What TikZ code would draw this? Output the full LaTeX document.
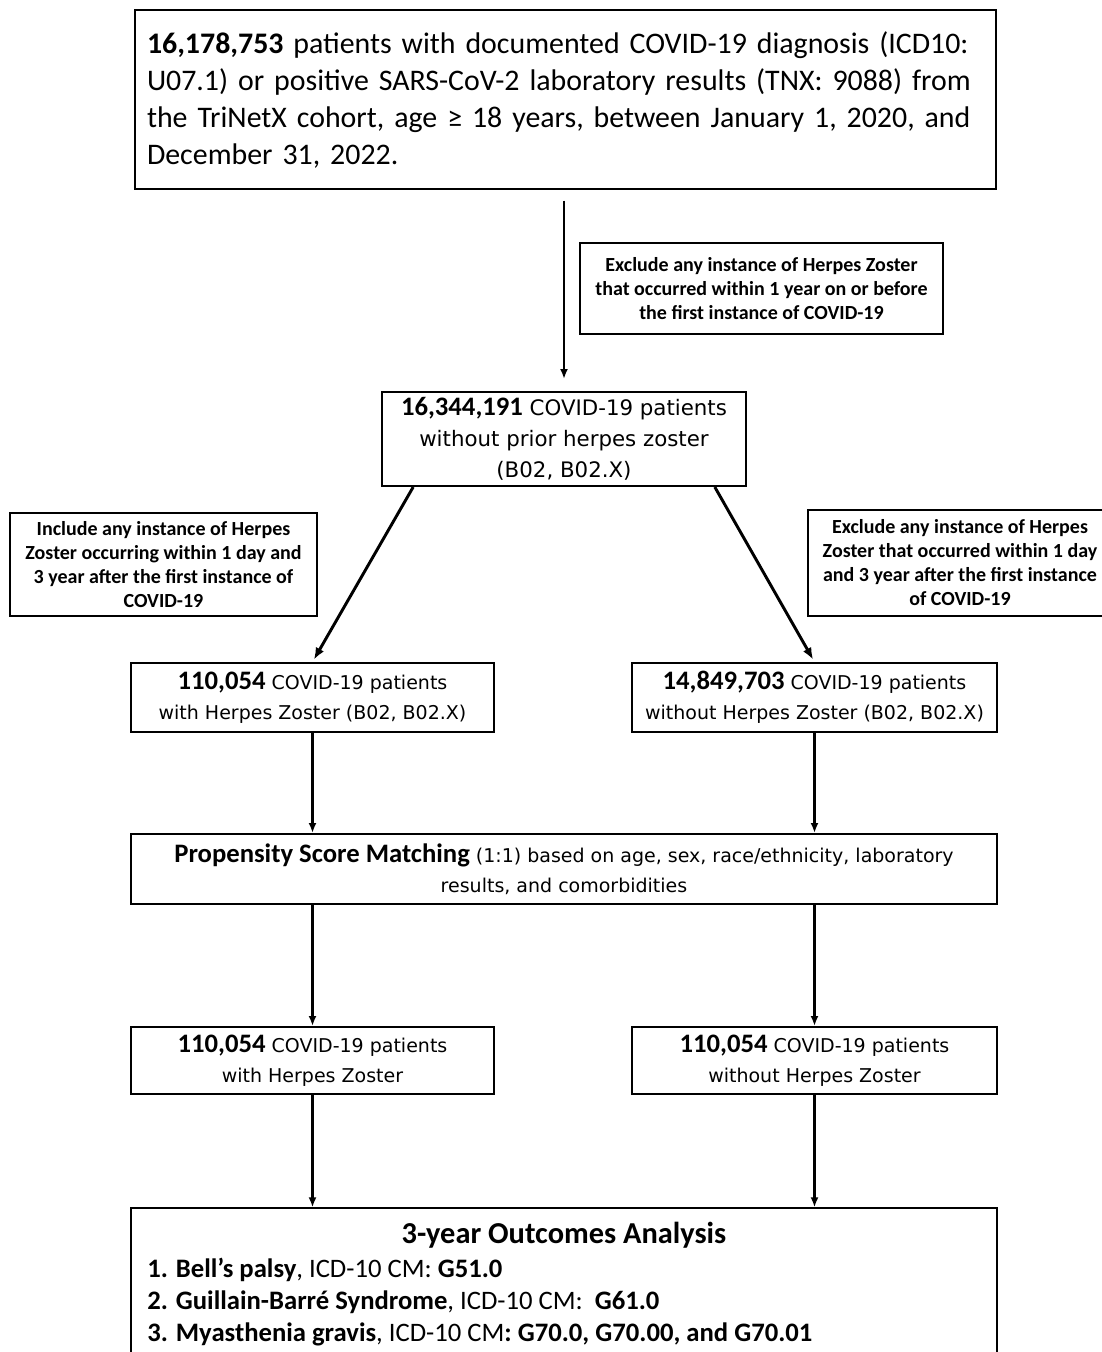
\documentclass[tikz,border=0pt]{standalone}
\usepackage{fontspec}
\setmainfont{Carlito}
\newfontfamily\dvfont{DejaVu Sans}
\usetikzlibrary{arrows.meta,calc}
\newcommand\bnum[2][20]{{\fontsize{#1}{#1}\selectfont\rmfamily\bfseries #2}}
\tikzset{
  box/.style={draw, line width=1.5pt, align=center, inner sep=0pt},
  lbl/.style={box, font=\fontsize{15}{18}\selectfont\bfseries},
  midA/.style={box, font=\dvfont\fontsize{16}{23.25}\selectfont},
  midB/.style={box, font=\dvfont\fontsize{14.25}{22.5}\selectfont},
  arr/.style={line width=1.6pt, -{Latex[length=7.5pt,width=6pt]}},
  darr/.style={line width=2.2pt, -{Latex[length=9pt,width=7pt]}},
}
\begin{document}
\begin{tikzpicture}[x=0.75pt,y=-0.75pt]
\useasboundingbox[fill=white] (0,0) rectangle (1101,1352);
% top
\node[box, minimum width=645.75pt, minimum height=134.25pt, text width=627.75pt, align=left,
  font=\fontsize{22.4}{27.75}\selectfont] (top) at (565.5,99.5)
  {\textbf{16,178,753} patients with documented COVID-19 diagnosis (ICD10:\\
   U07.1) or positive SARS-CoV-2 laboratory results (TNX: 9088) from\\
   the TriNetX cohort, age ≥ 18 years, between January 1, 2020, and\\
   December 31, 2022.};
\node[lbl, minimum width=272.25pt, minimum height=68.25pt] (ex1) at (761.5,288.5)
  {Exclude any instance of Herpes Zoster\\that occurred within 1 year on or before\\the first instance of COVID-19};
\node[midA, minimum width=273pt, minimum height=70.5pt] (b2) at (564,439)
  {\bnum{16,344,191} COVID-19 patients\\without prior herpes zoster\\(B02, B02.X)};
\node[lbl, minimum width=230.25pt, minimum height=77.25pt] (inc) at (163.5,564.5)
  {Include any instance of Herpes\\Zoster occurring within 1 day and\\3 year after the first instance of\\COVID-19};
\node[lbl, minimum width=228pt, minimum height=79.5pt] (ex2) at (960,563)
  {Exclude any instance of Herpes\\Zoster that occurred within 1 day\\and 3 year after the first instance\\of COVID-19};
\node[midB, minimum width=272.25pt, minimum height=51.75pt] (b3l) at (312.5,697.5)
  {\bnum{110,054} COVID-19 patients\\with Herpes Zoster (B02, B02.X)};
\node[midB, minimum width=273.75pt, minimum height=51.75pt] (b3r) at (814.5,697.5)
  {\bnum{14,849,703} COVID-19 patients\\without Herpes Zoster (B02, B02.X)};
\node[midB, minimum width=649.5pt, minimum height=52.5pt] (psm) at (564,869)
  {\bnum[20]{Propensity Score Matching} (1:1) based on age, sex, race/ethnicity, laboratory\\results, and comorbidities};
\node[midB, minimum width=272.25pt, minimum height=50.25pt] (b4l) at (312.5,1060.5)
  {\bnum{110,054} COVID-19 patients\\with Herpes Zoster};
\node[midB, minimum width=273.75pt, minimum height=50.25pt] (b4r) at (814.5,1060.5)
  {\bnum{110,054} COVID-19 patients\\without Herpes Zoster};
\node[box, minimum width=649.5pt, minimum height=124pt] (out) at (564,1291) {};
\node[font=\fontsize{22.8}{22.8}\selectfont\bfseries, inner sep=0pt] (outt) at (564,1235) {3-year Outcomes Analysis};
\node[anchor=north west, align=left, inner sep=0pt, font=\fontsize{20}{24}\selectfont] (outl) at (147,1258)
  {\textbf{1. Bell's palsy}, ICD-10 CM: \textbf{G51.0}\\
   \textbf{2. Guillain-Barré Syndrome}, ICD-10 CM:\ \ \textbf{G61.0}\\
   \textbf{3. Myasthenia gravis}, ICD-10 CM\textbf{: G70.0, G70.00, and G70.01}};
% connectors
\draw[arr, shorten <=8pt, shorten >=9pt] (top.south -| b2) -- (b2.north);
\draw[darr, shorten >=2pt] ($(b2.south west)!0.088!(b2.south east)$) -- (b3l.north);
\draw[darr, shorten >=2pt] ($(b2.south west)!0.912!(b2.south east)$) -- (b3r.north);
\draw[arr] (b3l.south) -- (psm.north -| b3l);
\draw[arr] (b3r.south) -- (psm.north -| b3r);
\draw[arr] (psm.south -| b4l) -- (b4l.north);
\draw[arr] (psm.south -| b4r) -- (b4r.north);
\draw[arr] (b4l.south) -- (out.north -| b4l);
\draw[arr] (b4r.south) -- (out.north -| b4r);
\end{tikzpicture}
\end{document}
